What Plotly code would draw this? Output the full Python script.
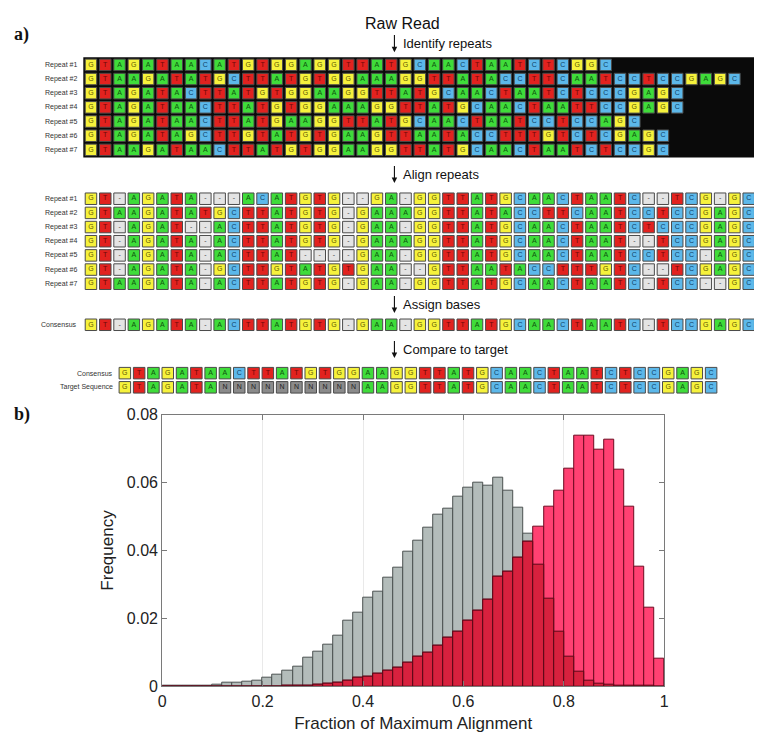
import numpy as np
import plotly.graph_objects as go

# ---------------- data: panel a ----------------
repeat_labels = ["Repeat #1", "Repeat #2", "Repeat #3", "Repeat #4", "Repeat #5", "Repeat #6", "Repeat #7"]
aligned_repeats = [
    "GT-AGATA---ACATGTG--GA-GGTTATGCAACTAATC--TCG-GC",
    "GTAAGATATGCTTATGTG-GAAAGGTTATACCTTCAATCCTCCGAGC",
    "GT-AGAT--ACTTATGTG-GAA-GGTTATGCAACTAATCTCCCGAGC",
    "GT-AGATA-ACTTATGTG-GAAAGGTTATGCAACTAAT--TCCGAGC",
    "GT-AGATA-ACTTAT----GAA-GGTTATGCAACTAATCCTCC-AGC",
    "GT-AGATA-GCTTGTATGTGAA--GTTAATACCTTTGTC--TCGAGC",
    "GTAAGATA-ACTTATGTG-GAA-GGTTATGCAACTAATC-TCC--GC",
]
raw_reads = [s.replace("-", "") for s in aligned_repeats]
consensus_aligned = "GT-AGATA-ACTTATGTG-GAA-GGTTATGCAACTAATC-TCCGAGC"
consensus_seq = consensus_aligned.replace("-", "")
target_seq = "GTAGATANNNNNNNNNNAAGGTTATGCAACTAATCTCCGAGC"

# ---------------- data: panel b ----------------
bin_width = 0.02
bin_centers = np.arange(50) * bin_width + bin_width / 2
freq_gray = [0.0001, 0.0001, 0.0002, 0.0002, 0.0003, 0.0005, 0.0010, 0.0012, 0.0015, 0.0017,
             0.0025, 0.0034, 0.0046, 0.0059, 0.0084, 0.0101, 0.0123, 0.0150, 0.0194, 0.0216,
             0.0262, 0.0278, 0.0319, 0.0348, 0.0396, 0.0430, 0.0466, 0.0505, 0.0524, 0.0559,
             0.0585, 0.0600, 0.0592, 0.0614, 0.0576, 0.0526, 0.0451, 0.0358, 0.0259, 0.0161,
             0.0088, 0.0044, 0.0018, 0.0009, 0.0005, 0.0003, 0.0002, 0.0001, 0.0001, 0.0000]
freq_red = [0.0, 0.0, 0.0, 0.0, 0.0, 0.0, 0.0, 0.0, 0.0, 0.0,
            0.0, 0.0, 0.0001, 0.0002, 0.0003, 0.0005, 0.0008, 0.0012, 0.0017, 0.0025,
            0.0029, 0.0036, 0.0046, 0.0054, 0.0071, 0.0088, 0.0100, 0.0121, 0.0144, 0.0161,
            0.0192, 0.0224, 0.0255, 0.0324, 0.0339, 0.0380, 0.0425, 0.0470, 0.0529, 0.0576,
            0.0640, 0.0739, 0.0739, 0.0696, 0.0727, 0.0638, 0.0529, 0.0353, 0.0231, 0.0080]

# ---------------- styles ----------------
FILL = {"G": "#f6f23c", "T": "#e2221f", "A": "#3fdc3a", "C": "#5cb8ea", "-": "#e4e4e4", "N": "#8b8b8b"}
INK = {"G": "#5c5600", "T": "#6e0808", "A": "#0e520e", "C": "#0f3f66", "-": "#444444", "N": "#222222"}

W, H = 762, 744
TOP_H = 395           # pixel height of panel a area
PITCH_X = 14.47
PITCH_Y = 14.5
X0 = 72.7 + 7.2       # centre of first cell, main blocks
X0_CMP = 107 + 7.2    # centre of first cell, comparison block

fig = go.Figure()

# black backdrop for the raw reads
n_cols = len(aligned_repeats[0])
raw_top = 50 - PITCH_Y / 2 - 0.5
fig.add_shape(type="rect", xref="x2", yref="y2", layer="below",
              x0=X0 - PITCH_X / 2 - 0.5, x1=X0 + (n_cols - 0.5) * PITCH_X + 2,
              y0=raw_top, y1=raw_top + len(raw_reads) * PITCH_Y + 1,
              fillcolor="#0a0a0a", line=dict(width=0))


def add_block(seqs, x0, y0):
    xs, ys, fills, inks, txt = [], [], [], [], []
    for r, s in enumerate(seqs):
        for c, ch in enumerate(s):
            xs.append(x0 + c * PITCH_X)
            ys.append(y0 + r * PITCH_Y)
            fills.append(FILL[ch])
            inks.append(INK[ch])
            txt.append(ch)
    fig.add_trace(go.Scatter(
        x=xs, y=ys, mode="markers+text", text=txt, xaxis="x2", yaxis="y2",
        marker=dict(symbol="square", size=11.5, color=fills, line=dict(color="#4a4a4a", width=1)),
        textposition="middle center",
        textfont=dict(family="Arial", size=7, color=inks),
        hoverinfo="skip", showlegend=False, cliponaxis=False))


add_block(raw_reads, X0, 50)
add_block(aligned_repeats, X0, 187)
add_block([consensus_aligned], X0, 316)
add_block([consensus_seq, target_seq], X0_CMP, 365.5)

annotations = []


def label(text, x, y, size=7, anchor="right", color="#333333", family="Arial"):
    annotations.append(dict(text=text, x=x, y=y, xref="x2", yref="y2", showarrow=False,
                            xanchor=anchor, yanchor="middle",
                            font=dict(size=size, color=color, family=family)))


for i, lab in enumerate(repeat_labels):
    label(lab, 68, 50 + i * PITCH_Y)
    label(lab, 68, 187 + i * PITCH_Y)
label("Consensus", 68, 316)
label("Consensus", 104, 365.5)
label("Target Sequence", 104, 380)

label("Raw Read", 395, 8, size=16, anchor="center", color="#111111")
ARROW_X = 387
steps = [("Identify repeats", 18, 37), ("Align repeats", 152, 171),
         ("Assign bases", 285, 304), ("Compare to target", 331, 350)]
for txt, y_a, y_b in steps:
    annotations.append(dict(x=ARROW_X, y=y_b, xref="x2", yref="y2", ax=ARROW_X, ay=y_a,
                            axref="x2", ayref="y2", text="", showarrow=True,
                            arrowhead=2, arrowsize=1, arrowwidth=1.1, arrowcolor="#111111"))
    label(txt, ARROW_X + 7, (y_a + y_b) / 2 + 1, size=13, anchor="left", color="#111111")

# panel labels
annotations.append(dict(text="<b>a)</b>", x=0, y=1 - 19 / H, xref="paper", yref="paper",
                        xanchor="left", yanchor="middle", showarrow=False,
                        font=dict(family="Liberation Serif", size=18, color="#111111")))
annotations.append(dict(text="<b>b)</b>", x=0, y=1 - 408 / H, xref="paper", yref="paper",
                        xanchor="left", yanchor="middle", showarrow=False,
                        font=dict(family="Liberation Serif", size=18, color="#111111")))

# ---------------- histogram ----------------
fg = np.array(freq_gray)
fr = np.array(freq_red)
overlap = np.minimum(fg, fr)
fig.add_trace(go.Bar(x=bin_centers, y=fg, width=bin_width, marker=dict(color="#b3bcba", line=dict(color="#4b5150", width=1)),
                     showlegend=False, hoverinfo="skip"))
fig.add_trace(go.Bar(x=bin_centers, y=fr, width=bin_width, marker=dict(color="#ff4172", line=dict(color="#6e0a20", width=1)),
                     showlegend=False, hoverinfo="skip"))
fig.add_trace(go.Bar(x=bin_centers, y=overlap, width=bin_width, marker=dict(color="#d8213e", line=dict(color="#5a0716", width=1)),
                     showlegend=False, hoverinfo="skip"))

axis_common = dict(showline=True, linecolor="#7a7a7a", linewidth=1, mirror="ticks", ticks="inside",
                   ticklen=5, tickcolor="#7a7a7a", zeroline=False,
                   tickfont=dict(family="Arial", size=16, color="#222222"))

fig.update_layout(
    width=W, height=H, margin=dict(l=0, r=0, t=0, b=0),
    paper_bgcolor="white", plot_bgcolor="rgba(0,0,0,0)",
    barmode="overlay", bargap=0,
    xaxis=dict(domain=[152 / W, 660 / W], range=[0, 1], dtick=0.2, showgrid=True, gridcolor="#e9e9e9",
               title=dict(text="Fraction of Maximum Alignment", font=dict(family="Arial", size=17, color="#222222"), standoff=8),
               **axis_common),
    yaxis=dict(domain=[(H - 686) / H, (H - 408) / H], range=[0, 0.08], dtick=0.02, showgrid=False,
               title=dict(text="Frequency", font=dict(family="Arial", size=17, color="#222222"), standoff=8),
               **axis_common),
    xaxis2=dict(domain=[0, 1], range=[0, W], visible=False, fixedrange=True),
    yaxis2=dict(domain=[(H - TOP_H) / H, 1], range=[TOP_H, 0], visible=False, fixedrange=True),
    annotations=annotations,
)

fig.write_html("out.html")
